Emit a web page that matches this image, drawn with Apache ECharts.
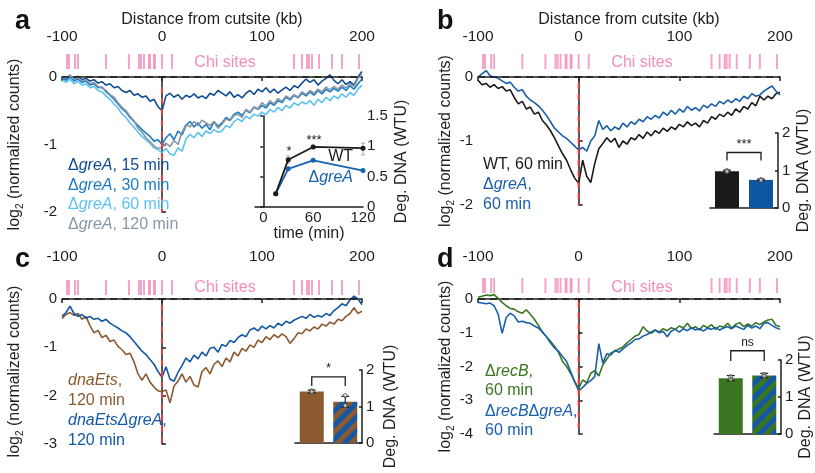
<!DOCTYPE html>
<html><head><meta charset="utf-8">
<script src="https://cdn.jsdelivr.net/npm/echarts@6/dist/echarts.min.js"></script>
<style>html,body{margin:0;padding:0;background:#fff}#c{width:815px;height:473px}</style>
</head><body><div id="c"></div>
<script>
// ---------- DATA ----------
const positions = [-100,-96,-92,-88,-84,-80,-76,-72,-68,-64,-60,-56,-52,-48,-44,-40,-36,-32,-28,-24,-20,-16,-12,-8,-4,0,4,8,12,16,20,24,28,32,36,40,44,48,52,56,60,64,68,72,76,80,84,88,92,96,100,104,108,112,116,120,124,128,132,136,140,144,148,152,156,160,164,168,172,176,180,184,188,192,196,200];
const chiSites = [-95,-93,-87,-84,-56,-33,-23,-21,-18,-13,-12,-8,-7,0,10,132,140,145,147,150,157,170,180,197];
const cutsite = 0;
const baseline = 0;

const a15 = [0.00,-0.03,0.02,-0.02,0.01,-0.04,-0.02,-0.06,-0.04,-0.09,
 -0.07,-0.12,-0.10,-0.16,-0.14,-0.20,-0.23,-0.20,-0.27,-0.25,
 -0.30,-0.28,-0.36,-0.33,-0.44,-0.50,-0.28,-0.24,-0.30,-0.26,
 -0.33,-0.27,-0.30,-0.25,-0.31,-0.28,-0.32,-0.24,-0.27,-0.20,
 -0.24,-0.28,-0.22,-0.30,-0.26,-0.31,-0.24,-0.20,-0.26,-0.18,
 -0.22,-0.16,-0.23,-0.18,-0.24,-0.19,-0.15,-0.20,-0.13,-0.16,
 -0.09,-0.03,-0.08,-0.04,-0.12,-0.06,-0.02,0.03,-0.05,-0.10,
 -0.04,-0.11,-0.07,-0.12,0.00,0.08];
const a30 = [-0.02,-0.05,0.00,-0.06,-0.03,-0.08,-0.06,-0.12,-0.10,-0.16,
 -0.15,-0.22,-0.27,-0.33,-0.40,-0.47,-0.52,-0.60,-0.66,-0.72,
 -0.78,-0.83,-0.88,-0.95,-0.93,-1.00,-0.90,-0.84,-0.93,-0.80,
 -0.86,-0.72,-0.66,-0.74,-0.68,-0.76,-0.70,-0.78,-0.66,-0.73,
 -0.68,-0.60,-0.64,-0.55,-0.52,-0.57,-0.49,-0.53,-0.45,-0.48,
 -0.42,-0.46,-0.38,-0.42,-0.35,-0.38,-0.30,-0.34,-0.27,-0.31,
 -0.24,-0.28,-0.22,-0.27,-0.20,-0.25,-0.18,-0.22,-0.17,-0.21,
 -0.15,-0.20,-0.13,-0.18,-0.10,-0.03];
const a60 = [-0.05,-0.08,-0.03,-0.10,-0.06,-0.12,-0.10,-0.16,-0.14,-0.20,
 -0.22,-0.28,-0.33,-0.40,-0.46,-0.55,-0.60,-0.68,-0.74,-0.82,
 -0.88,-0.93,-0.98,-1.05,-1.08,-1.12,-1.06,-1.14,-1.16,-1.05,
 -1.10,-0.92,-0.85,-0.90,-0.82,-0.88,-0.80,-0.84,-0.78,-0.82,
 -0.80,-0.72,-0.75,-0.66,-0.62,-0.66,-0.58,-0.62,-0.55,-0.58,
 -0.52,-0.56,-0.48,-0.52,-0.45,-0.50,-0.42,-0.46,-0.38,-0.42,
 -0.37,-0.40,-0.35,-0.42,-0.33,-0.38,-0.30,-0.35,-0.28,-0.32,
 -0.25,-0.30,-0.23,-0.27,-0.18,-0.12];
const a120 = [0.00,-0.02,0.03,-0.04,0.00,-0.06,-0.04,-0.10,-0.08,-0.14,
 -0.16,-0.20,-0.26,-0.30,-0.38,-0.45,-0.50,-0.58,-0.65,-0.76,
 -0.82,-0.90,-0.96,-1.02,-1.06,-1.04,-0.98,-1.03,-0.94,-1.00,
 -0.82,-0.70,-0.74,-0.66,-0.72,-0.64,-0.68,-0.72,-0.66,-0.76,
 -0.70,-0.62,-0.65,-0.57,-0.55,-0.60,-0.48,-0.52,-0.44,-0.47,
 -0.38,-0.43,-0.35,-0.40,-0.32,-0.36,-0.28,-0.32,-0.26,-0.30,
 -0.22,-0.26,-0.20,-0.24,-0.18,-0.22,-0.15,-0.19,-0.14,-0.18,
 -0.12,-0.16,-0.10,-0.14,-0.02,0.03];
const bWT = [-0.05,-0.12,-0.10,-0.16,-0.12,-0.18,-0.15,-0.22,-0.20,-0.32,
 -0.42,-0.38,-0.50,-0.47,-0.58,-0.55,-0.68,-0.75,-0.84,-0.95,
 -1.08,-1.20,-1.30,-1.45,-1.58,-1.66,-1.30,-1.55,-1.65,-1.35,
 -1.12,-1.04,-0.95,-1.02,-0.96,-1.10,-1.00,-1.05,-0.95,-0.98,
 -0.90,-0.96,-0.86,-0.92,-0.84,-0.88,-0.80,-0.85,-0.78,-0.82,
 -0.74,-0.78,-0.70,-0.76,-0.72,-0.78,-0.68,-0.72,-0.62,-0.66,
 -0.58,-0.62,-0.55,-0.60,-0.50,-0.55,-0.46,-0.50,-0.40,-0.45,
 -0.30,-0.36,-0.30,-0.34,-0.26,-0.24];
const bGreA = [0.00,0.05,0.10,0.02,0.00,-0.02,-0.06,-0.10,-0.08,-0.16,
 -0.22,-0.20,-0.30,-0.36,-0.40,-0.45,-0.52,-0.60,-0.70,-0.80,
 -0.86,-0.92,-0.96,-1.02,-1.08,-1.14,-1.10,-1.16,-1.00,-0.92,
 -0.68,-0.82,-0.76,-0.84,-0.78,-0.82,-0.72,-0.78,-0.70,-0.74,
 -0.66,-0.70,-0.62,-0.66,-0.60,-0.64,-0.55,-0.60,-0.52,-0.58,
 -0.50,-0.55,-0.46,-0.52,-0.48,-0.53,-0.44,-0.48,-0.42,-0.46,
 -0.38,-0.42,-0.36,-0.40,-0.34,-0.38,-0.30,-0.34,-0.26,-0.30,
 -0.28,-0.22,-0.18,-0.14,-0.22,-0.28];
const cDnaEts = [-0.40,-0.32,-0.28,-0.34,-0.30,-0.42,-0.36,-0.55,-0.70,-0.65,
 -0.80,-0.75,-0.88,-0.85,-0.98,-1.05,-1.15,-1.12,-1.30,-1.55,
 -1.68,-1.55,-1.72,-1.82,-1.90,-1.92,-1.88,-2.15,-1.80,-1.70,
 -1.55,-1.72,-1.60,-1.78,-1.82,-1.50,-1.42,-1.55,-1.35,-1.28,
 -1.40,-1.22,-1.30,-1.10,-1.18,-1.02,-1.08,-0.95,-1.00,-0.85,
 -0.90,-0.78,-0.84,-0.74,-0.80,-0.72,-0.78,-0.92,-0.82,-0.70,
 -0.72,-0.62,-0.66,-0.58,-0.62,-0.52,-0.56,-0.48,-0.52,-0.42,
 -0.45,-0.36,-0.30,-0.18,-0.30,-0.25];
const cDnaEtsGreA = [-0.36,-0.28,-0.15,-0.30,-0.36,-0.32,-0.40,-0.36,-0.42,-0.40,
 -0.46,-0.42,-0.50,-0.55,-0.60,-0.66,-0.70,-0.78,-0.88,-0.98,
 -1.08,-1.15,-1.25,-1.35,-1.50,-1.62,-1.40,-1.66,-1.70,-1.52,
 -1.38,-1.22,-1.30,-1.16,-1.24,-1.10,-1.18,-1.02,-1.00,-1.10,
 -0.94,-0.98,-0.86,-0.90,-0.80,-0.74,-0.78,-0.64,-0.60,-0.66,
 -0.56,-0.62,-0.55,-0.60,-0.50,-0.55,-0.46,-0.50,-0.44,-0.40,
 -0.36,-0.40,-0.32,-0.38,-0.34,-0.37,-0.30,-0.34,-0.24,-0.18,
 -0.10,-0.14,-0.02,0.06,0.00,-0.12];
const dRecB = [0.05,0.08,0.12,0.10,0.13,0.02,-0.10,-0.20,-0.28,-0.30,
 -0.38,-0.42,-0.32,-0.45,-0.60,-0.78,-0.98,-1.12,-1.25,-1.40,
 -1.58,-1.85,-2.00,-2.20,-2.45,-2.65,-2.40,-2.48,-2.20,-2.12,
 -2.28,-1.95,-1.78,-1.60,-1.55,-1.48,-1.42,-1.30,-1.20,-1.10,
 -1.05,-0.82,-0.95,-1.02,-0.92,-0.98,-0.88,-0.94,-0.85,-0.90,
 -0.80,-0.86,-0.72,-0.88,-0.82,-0.92,-0.78,-0.85,-0.76,-0.90,
 -0.80,-0.84,-0.72,-0.86,-0.75,-0.70,-0.82,-0.74,-0.80,-0.70,
 -0.76,-0.68,-0.62,-0.60,-0.78,-0.82];
const dRecBGreA = [-0.10,-0.12,-0.14,-0.12,-0.20,-0.45,-1.02,-0.55,-0.42,-0.50,
 -0.68,-0.66,-0.70,-0.72,-0.80,-0.86,-0.98,-1.12,-1.30,-1.45,
 -1.55,-1.70,-1.85,-2.15,-2.45,-2.72,-2.62,-2.50,-2.42,-2.30,
 -1.32,-1.90,-1.62,-1.66,-1.52,-1.58,-1.48,-1.38,-1.30,-1.20,
 -1.18,-1.10,-1.05,-0.98,-0.92,-1.00,-0.96,-1.12,-0.95,-0.90,
 -0.98,-0.88,-0.94,-0.85,-0.92,-0.88,-0.95,-0.86,-0.90,-0.84,
 -0.92,-0.86,-0.82,-0.88,-0.80,-0.85,-0.90,-0.78,-0.86,-0.80,
 -0.88,-0.72,-0.70,-0.78,-0.85,-0.90];

// inset a (time course)
const times = [15, 30, 60, 120];
const wtDeg = [0.22, 0.78, 0.99, 0.97];
const wtErr = [[0.20, 0.24], [0.72, 0.84], [0.96, 1.02], [0.86, 1.05]];
const greADeg = [0.22, 0.63, 0.77, 0.60];
const timeTicks = [0, 60, 120];

// bar insets
const barCats = ['A', 'B'];
const bBars = [0.98, 0.75];
const bErr = [[0.95, 1.01], [0.73, 0.77]];
const bReps = [[1.0, 0.97], [0.76, 0.74]];
const cBars = [1.41, 1.13];
const cErr = [[1.37, 1.45], [0.98, 1.28]];
const cReps = [[1.43, 1.40], [1.30, 1.04, 1.02]];
const dBars = [1.51, 1.58];
const dErr = [[1.44, 1.58], [1.52, 1.64]];
const dReps = [[1.55, 1.47], [1.61, 1.56]];
const brackets = { b: [1.27, 1.48, '***'], c: [1.56, 1.81, '*'], d: [1.97, 2.25, 'ns'] };

// ---------- HELPERS ----------
const FONT = '"Liberation Sans", Arial, Helvetica, sans-serif';
const INK = '#1e1e1e';
const pts = v => positions.map((x, i) => [x, v[i]]);

function stripes(c1, c2) {
  const s = 14, cv = document.createElement('canvas');
  cv.width = s; cv.height = s;
  const g = cv.getContext('2d');
  g.fillStyle = c1; g.fillRect(0, 0, s, s);
  g.fillStyle = c2;
  g.beginPath(); g.moveTo(0, 0); g.lineTo(s / 2, 0); g.lineTo(0, s / 2); g.closePath(); g.fill();
  g.beginPath(); g.moveTo(0, s); g.lineTo(s, 0); g.lineTo(s, s / 2); g.lineTo(s / 2, s); g.closePath(); g.fill();
  return { image: cv, repeat: 'repeat' };
}

const axLine = { show: true, lineStyle: { color: INK, width: 1.5 } };
function mainX(gi, offset, named) {
  return { gridIndex: gi, type: 'value', position: 'top', offset, min: -100, max: 200, interval: 100,
    axisLine: axLine, axisTick: { show: true, inside: true, length: 4, lineStyle: { color: INK, width: 1.5 } },
    axisLabel: { fontSize: 15.5, color: INK, margin: 3, fontFamily: FONT }, splitLine: { show: false },
    name: named ? 'Distance from cutsite (kb)' : '', nameLocation: 'middle', nameGap: 20,
    nameTextStyle: { fontSize: 16, color: INK, fontFamily: FONT, lineHeight: 16 } };
}
function mainY(gi, min, gap) {
  return { gridIndex: gi, type: 'value', min, max: 0, interval: 1,
    axisLine: axLine, axisTick: { show: true, inside: true, length: 4, lineStyle: { color: INK, width: 1.5 } },
    axisLabel: { fontSize: 15, color: INK, margin: 5, fontFamily: FONT }, splitLine: { show: false },
    name: 'log{s|2} (normalized counts)', nameLocation: 'middle', nameRotate: 90, nameGap: gap,
    nameTextStyle: { fontSize: 16, color: INK, fontFamily: FONT, lineHeight: 20,
      rich: { s: { fontSize: 10, lineHeight: 10, verticalAlign: 'bottom', color: INK, fontFamily: FONT } } } };
}
const hidX = gi => ({ gridIndex: gi, type: 'value', min: -100, max: 200, show: false });
const hidY = gi => ({ gridIndex: gi, type: 'value', min: 0, max: 1, show: false });
function barX(gi) {
  return { gridIndex: gi, type: 'category', data: barCats, axisLine: axLine,
    axisTick: { show: false }, axisLabel: { show: false } };
}
function degY(gi, max, interval, gap) {
  return { gridIndex: gi, type: 'value', position: 'right', min: 0, max, interval,
    axisLine: axLine, axisTick: { show: true, inside: true, length: 3, lineStyle: { color: INK, width: 1.5 } },
    axisLabel: { fontSize: 15, color: INK, margin: 4, fontFamily: FONT }, splitLine: { show: false },
    name: 'Deg. DNA (WTU)', nameLocation: 'middle', nameRotate: 90, nameGap: gap,
    nameTextStyle: { fontSize: 16, color: INK, fontFamily: FONT, lineHeight: 16 } };
}
function trace(gi, vals, color) {
  return { type: 'line', xAxisIndex: gi, yAxisIndex: gi, data: pts(vals), showSymbol: false,
    clip: false, lineStyle: { color, width: 1.6 }, itemStyle: { color }, z: 3 };
}
// dashed zero line and red dashed cutsite line, as line series through the axes
function refSeries(gi, redTop, yMin) {
  return [
    { type: 'line', xAxisIndex: gi, yAxisIndex: gi, data: [[-100, baseline], [200, baseline]], showSymbol: false,
      symbol: 'none', silent: true, clip: false, z: 4, lineStyle: { color: INK, type: [7, 5], width: 1.5 } },
    { type: 'line', xAxisIndex: gi, yAxisIndex: gi, data: [[cutsite, redTop], [cutsite, yMin]], showSymbol: false,
      symbol: 'none', silent: true, clip: false, z: 4, lineStyle: { color: '#ee3a3a', type: [6, 5], width: 2 } }
  ];
}
function chi(gi) {
  return { type: 'scatter', xAxisIndex: gi, yAxisIndex: gi, data: chiSites.map(x => [x, 0.5]),
    symbol: 'rect', symbolSize: [2, 15], itemStyle: { color: '#f38dbb' }, silent: true };
}
function errRenderer(color, w) {
  return (params, api) => {
    const x = api.value(0), p1 = api.coord([x, api.value(1)]), p2 = api.coord([x, api.value(2)]);
    const st = { stroke: color, lineWidth: 1.2 };
    return { type: 'group', children: [
      { type: 'line', shape: { x1: p1[0], y1: p1[1], x2: p2[0], y2: p2[1] }, style: st },
      { type: 'line', shape: { x1: p1[0] - w, y1: p1[1], x2: p1[0] + w, y2: p1[1] }, style: st },
      { type: 'line', shape: { x1: p2[0] - w, y1: p2[1], x2: p2[0] + w, y2: p2[1] }, style: st } ] };
  };
}
function errors(gi, errs, xs, color, w) {
  return { type: 'custom', xAxisIndex: gi, yAxisIndex: gi, renderItem: errRenderer(color || INK, w || 4), z: 5,
    encode: { x: 0, y: [1, 2] }, data: errs.map((e, i) => [xs ? xs[i] : i, e[0], e[1]]) };
}
function reps(gi, r) {
  return { type: 'scatter', xAxisIndex: gi, yAxisIndex: gi, z: 6, symbolSize: 4, silent: true,
    itemStyle: { color: 'rgba(255,255,255,0.6)', borderColor: '#444', borderWidth: 1 },
    data: r.flatMap((arr, i) => arr.map(v => [i, v])) };
}
function bracket(gi, br) {
  return { type: 'custom', xAxisIndex: gi, yAxisIndex: gi, z: 5, encode: { x: 0, y: [1, 2] },
    data: [[0, br[0], br[1]]],
    renderItem: (p, api) => {
      const a = api.coord([0, api.value(1)]), b = api.coord([0, api.value(2)]),
            c = api.coord([1, api.value(2)]), d = api.coord([1, api.value(1)]);
      return { type: 'group', children: [
        { type: 'polyline', shape: { points: [a, b, c, d] }, style: { stroke: INK, lineWidth: 1.3, fill: null } },
        { type: 'text', style: { text: br[2], x: (b[0] + c[0]) / 2, y: b[1] - 2, align: 'center',
          verticalAlign: 'bottom', fontSize: br[2] === 'ns' ? 12 : 13, fill: INK, fontFamily: FONT } } ] };
    } };
}
function bars(gi, vals, colors) {
  return { type: 'bar', xAxisIndex: gi, yAxisIndex: gi, barWidth: 24, z: 2,
    data: vals.map((v, i) => ({ value: v, itemStyle: { color: colors[i] } })) };
}
function txt(x, y, text, color, o) {
  o = o || {};
  const st = { text, x: 0, y: 0, fill: color, fontSize: o.size || 16, fontFamily: FONT,
    fontWeight: o.weight || 'normal', align: o.align || 'left', verticalAlign: 'middle',
    textAlign: o.align || 'left', textVerticalAlign: 'middle',
    rich: { i: { fontStyle: 'italic', fill: color, fontSize: o.size || 16, fontFamily: FONT } } };
  return { type: 'text', x, y, style: st, z: 20 };
}

// ---------- OPTION ----------
const brown = '#8b5a30', green = '#3a761f';
const option = {
  animation: false,
  textStyle: { fontFamily: FONT },
  grid: [
    { left: 62, top: 77, width: 300, height: 135 },
    { left: 62, top: 54, width: 300, height: 15 },
    { left: 255, top: 116, width: 108, height: 91 },
    { left: 478, top: 77, width: 302, height: 128 },
    { left: 478, top: 54, width: 302, height: 15 },
    { left: 710, top: 133, width: 68, height: 75 },
    { left: 62, top: 299, width: 300, height: 145 },
    { left: 62, top: 280, width: 300, height: 15 },
    { left: 295, top: 370, width: 67, height: 73 },
    { left: 478, top: 299, width: 302, height: 135 },
    { left: 478, top: 278, width: 302, height: 15 },
    { left: 714, top: 360, width: 68, height: 74 }
  ],
  xAxis: [
    mainX(0, 29, true), hidX(1),
    { gridIndex: 2, type: 'value', min: -10, max: 120, interval: 10, axisLine: axLine, axisTick: { show: false },
      axisLabel: { fontSize: 15, color: INK, margin: 3, fontFamily: FONT, formatter: v => timeTicks.includes(v) ? String(v) : '' },
      splitLine: { show: false }, name: 'time (min)', nameLocation: 'middle', nameGap: 19,
      nameTextStyle: { fontSize: 16, color: INK, fontFamily: FONT, lineHeight: 16 } },
    mainX(3, 29, true), hidX(4), barX(5),
    mainX(6, 31, false), hidX(7), barX(8),
    mainX(9, 31, false), hidX(10), barX(11)
  ],
  yAxis: [
    mainY(0, -2, 37), hidY(1), degY(2, 1.5, 0.5, 31),
    mainY(3, -2, 12), hidY(4), degY(5, 2, 1, 18),
    mainY(6, -3, 37), hidY(7), degY(8, 2, 1, 21),
    mainY(9, -4, 12), hidY(10), degY(11, 2, 1, 17)
  ],
  series: [
    // panel a
    trace(0, a15, '#0f4c92'),
    trace(0, a30, '#1c7cc8'),
    trace(0, a60, '#5cc3f0'),
    trace(0, a120, '#8797a3'),
    ...refSeries(0, -0.15, -2),
    chi(1),
    errors(2, wtErr, times, '#b5b5b5', 2),
    { type: 'line', xAxisIndex: 2, yAxisIndex: 2, data: times.map((t, i) => [t, greADeg[i]]), symbol: 'circle',
      symbolSize: 5, lineStyle: { color: '#1763b0', width: 1.8 }, itemStyle: { color: '#1763b0' }, z: 6 },
    { type: 'line', xAxisIndex: 2, yAxisIndex: 2, data: times.map((t, i) => [t, wtDeg[i]]), symbol: 'circle',
      symbolSize: 5, lineStyle: { color: '#1a1a1a', width: 1.8 }, itemStyle: { color: '#1a1a1a' }, z: 6 },
    // panel b
    trace(3, bWT, '#1a1a1a'),
    trace(3, bGreA, '#1a5ea8'),
    ...refSeries(3, -0.09, -2),
    chi(4),
    bars(5, bBars, ['#1a1a1a', '#0f56a0']),
    errors(5, bErr),
    reps(5, bReps),
    bracket(5, brackets.b),
    // panel c
    trace(6, cDnaEts, brown),
    trace(6, cDnaEtsGreA, '#1458a5'),
    ...refSeries(6, -0.12, -3),
    chi(7),
    bars(8, cBars, [brown, stripes(brown, '#1458a5')]),
    errors(8, cErr),
    reps(8, cReps),
    bracket(8, brackets.c),
    // panel d
    trace(9, dRecB, green),
    trace(9, dRecBGreA, '#1a5fae'),
    ...refSeries(9, -0.07, -4),
    chi(10),
    bars(11, dBars, [green, stripes(green, '#1458a5')]),
    errors(11, dErr),
    reps(11, dReps),
    bracket(11, brackets.d)
  ],
  graphic: [
    txt(15, 22, 'a', '#111', { size: 27, weight: 'bold' }),
    txt(437, 22, 'b', '#111', { size: 27, weight: 'bold' }),
    txt(15, 260, 'c', '#111', { size: 27, weight: 'bold' }),
    txt(437, 260, 'd', '#111', { size: 27, weight: 'bold' }),
    txt(225, 63, 'Chi sites', '#f38dbb', { align: 'center' }),
    txt(642, 63, 'Chi sites', '#f38dbb', { align: 'center' }),
    txt(225, 288, 'Chi sites', '#f38dbb', { align: 'center' }),
    txt(642, 288, 'Chi sites', '#f38dbb', { align: 'center' }),
    txt(68, 166, 'Δ{i|greA}, 15 min', '#0f4c92'),
    txt(68, 185.5, 'Δ{i|greA}, 30 min', '#1c7cc8'),
    txt(68, 205, 'Δ{i|greA}, 60 min', '#5cc3f0'),
    txt(68, 224.5, 'Δ{i|greA}, 120 min', '#8797a3'),
    txt(353, 157, 'WT', '#1a1a1a', { align: 'right' }),
    txt(353, 178, 'Δ{i|greA}', '#1763b0', { align: 'right' }),
    txt(289, 151, '*', '#1a1a1a', { align: 'center', size: 13 }),
    txt(314, 140, '***', '#1a1a1a', { align: 'center', size: 13 }),
    txt(483, 165, 'WT, 60 min', '#1a1a1a'),
    txt(483, 185, 'Δ{i|greA},', '#1a5ea8'),
    txt(483, 205, '60 min', '#1a5ea8'),
    txt(68, 381, '{i|dnaEts},', brown),
    txt(68, 401, '120 min', brown),
    txt(68, 421, '{i|dnaEtsΔgreA},', '#1458a5'),
    txt(68, 441, '120 min', '#1458a5'),
    txt(485, 372, 'Δ{i|recB},', green),
    txt(485, 391, '60 min', green),
    txt(485, 411.5, 'Δ{i|recB}Δ{i|greA},', '#1a5fae'),
    txt(485, 431, '60 min', '#1a5fae')
  ]
};
const chart = echarts.init(document.getElementById('c'), null, { renderer: 'canvas' });
chart.setOption(option);
</script>
</body></html>
